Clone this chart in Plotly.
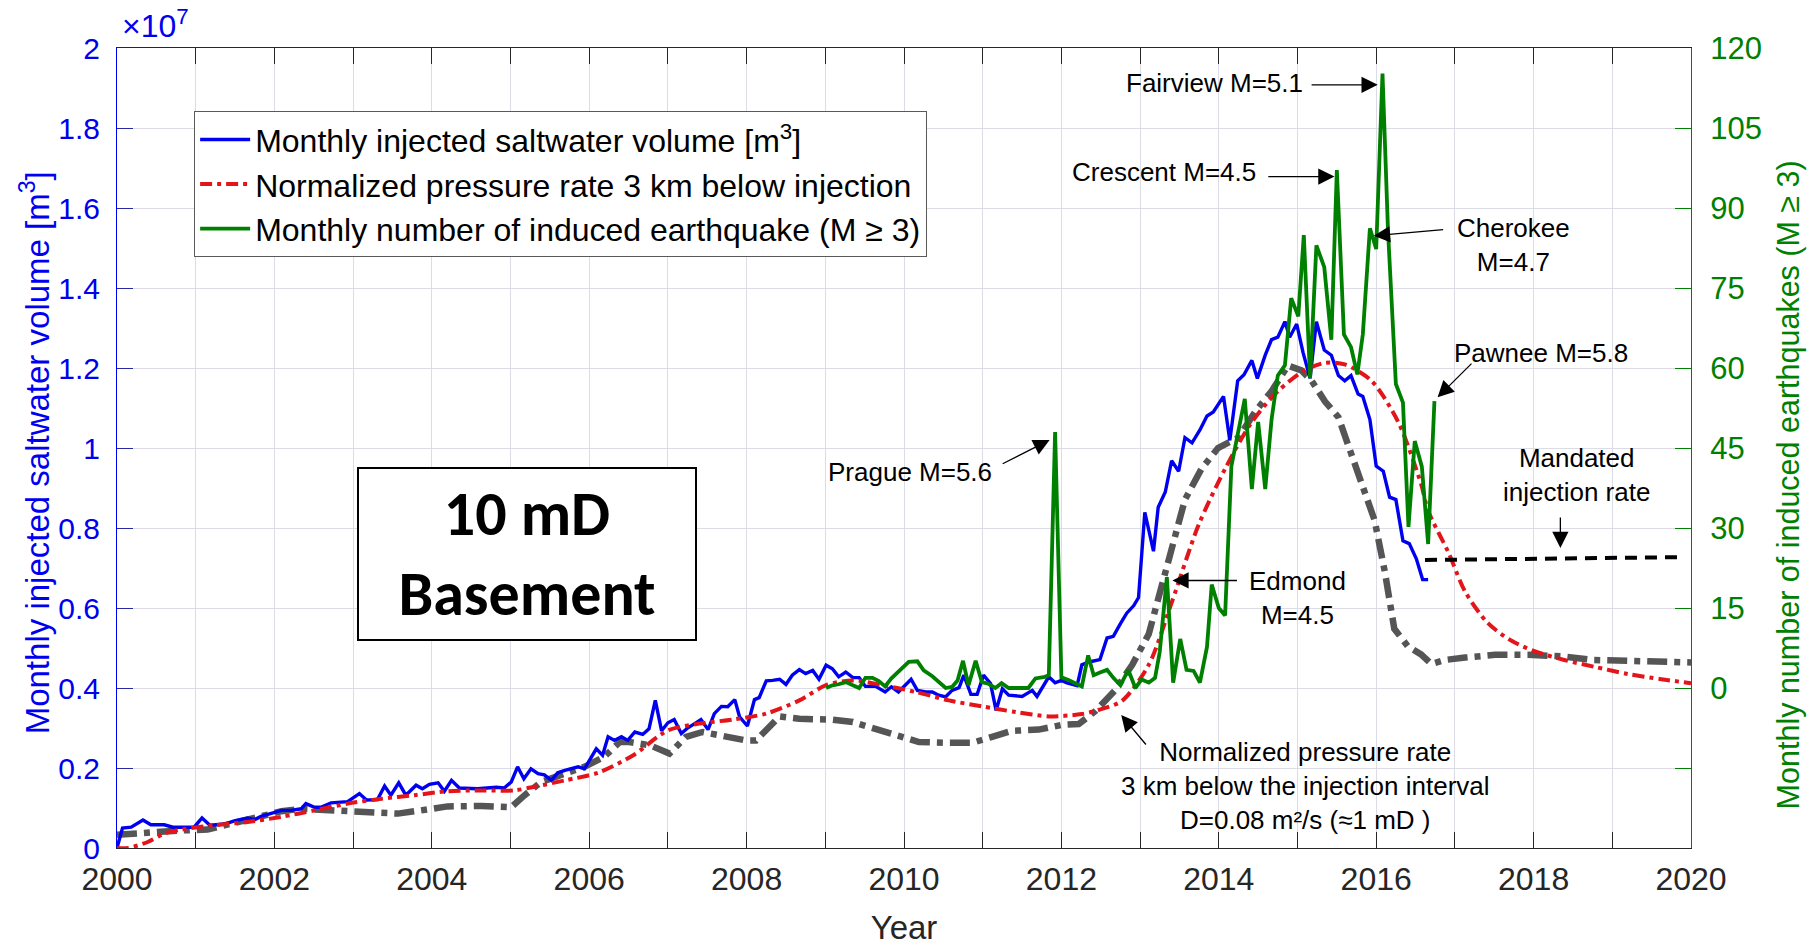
import plotly.graph_objects as go

# ---- Monthly injected saltwater volume (units of 1e7 m^3) ----
inj_year = [2000.00, 2000.07, 2000.18, 2000.33, 2000.43, 2000.60, 2000.71, 2000.82, 2000.98, 2001.08,
            2001.18, 2001.37, 2001.49, 2001.66, 2001.75, 2001.83, 2001.96, 2002.09, 2002.21, 2002.34,
            2002.40, 2002.51, 2002.59, 2002.72, 2002.93, 2003.08, 2003.17, 2003.31, 2003.40, 2003.48,
            2003.58, 2003.67, 2003.80, 2003.88, 2003.97, 2004.08, 2004.16, 2004.25, 2004.35, 2004.58,
            2004.82, 2004.92, 2005.01, 2005.09, 2005.17, 2005.26, 2005.35, 2005.43, 2005.52, 2005.60,
            2005.69, 2005.86, 2005.94, 2006.09, 2006.17, 2006.24, 2006.32, 2006.41, 2006.49, 2006.58,
            2006.68, 2006.76, 2006.84, 2006.92, 2007.00, 2007.08, 2007.17, 2007.25, 2007.34, 2007.42,
            2007.51, 2007.59, 2007.68, 2007.76, 2007.85, 2007.91, 2008.01, 2008.10, 2008.16, 2008.25,
            2008.33, 2008.42, 2008.50, 2008.58, 2008.67, 2008.75, 2008.84, 2008.92, 2009.01, 2009.09,
            2009.17, 2009.26, 2009.35, 2009.43, 2009.51, 2009.64, 2009.76, 2009.84, 2009.93, 2010.09,
            2010.17, 2010.28, 2010.36, 2010.44, 2010.53, 2010.61, 2010.70, 2010.76, 2010.85, 2010.93,
            2011.01, 2011.10, 2011.17, 2011.25, 2011.33, 2011.50, 2011.63, 2011.69, 2011.84, 2011.92,
            2012.00, 2012.07, 2012.20, 2012.26, 2012.35, 2012.49, 2012.58, 2012.66, 2012.75, 2012.83,
            2012.92, 2012.98, 2013.06, 2013.17, 2013.23, 2013.32, 2013.40, 2013.49, 2013.57, 2013.66,
            2013.76, 2013.85, 2013.93, 2014.06, 2014.14, 2014.24, 2014.32, 2014.42, 2014.49, 2014.59,
            2014.67, 2014.75, 2014.84, 2014.90, 2014.99, 2015.07, 2015.16, 2015.24, 2015.34, 2015.43,
            2015.52, 2015.60, 2015.68, 2015.77, 2015.83, 2015.92, 2016.00, 2016.09, 2016.17, 2016.25,
            2016.34, 2016.42, 2016.51, 2016.59, 2016.66]
inj_vol = [0.000, 0.050, 0.052, 0.070, 0.058, 0.058, 0.052, 0.052, 0.052, 0.075,
           0.057, 0.060, 0.068, 0.075, 0.071, 0.079, 0.086, 0.094, 0.094, 0.098,
           0.111, 0.102, 0.102, 0.113, 0.116, 0.136, 0.120, 0.121, 0.155, 0.132,
           0.163, 0.132, 0.157, 0.148, 0.159, 0.163, 0.142, 0.169, 0.150, 0.148,
           0.152, 0.150, 0.165, 0.203, 0.173, 0.198, 0.186, 0.183, 0.169, 0.188,
           0.194, 0.203, 0.198, 0.248, 0.232, 0.278, 0.269, 0.278, 0.269, 0.290,
           0.284, 0.298, 0.369, 0.293, 0.313, 0.321, 0.286, 0.300, 0.311, 0.321,
           0.296, 0.336, 0.354, 0.353, 0.371, 0.328, 0.305, 0.371, 0.376, 0.418,
           0.419, 0.422, 0.409, 0.432, 0.446, 0.436, 0.444, 0.422, 0.457, 0.448,
           0.428, 0.440, 0.426, 0.426, 0.404, 0.404, 0.390, 0.403, 0.390, 0.422,
           0.394, 0.390, 0.390, 0.382, 0.378, 0.394, 0.401, 0.432, 0.384, 0.384,
           0.432, 0.411, 0.344, 0.398, 0.382, 0.379, 0.394, 0.379, 0.428, 0.413,
           0.419, 0.413, 0.406, 0.458, 0.465, 0.471, 0.525, 0.529, 0.561, 0.587,
           0.606, 0.626, 0.839, 0.742, 0.852, 0.890, 0.968, 0.942, 1.026, 1.013,
           1.045, 1.080, 1.090, 1.129, 1.019, 1.168, 1.183, 1.219, 1.174, 1.232,
           1.271, 1.277, 1.316, 1.277, 1.310, 1.239, 1.174, 1.316, 1.245, 1.232,
           1.181, 1.168, 1.181, 1.135, 1.129, 1.071, 0.955, 0.942, 0.877, 0.871,
           0.768, 0.761, 0.723, 0.671, 0.671]

# ---- Monthly number of induced earthquakes (M >= 3) ----
eq_year = [2009.01, 2009.09, 2009.17, 2009.26, 2009.35, 2009.43, 2009.51, 2009.60, 2009.68, 2009.76,
           2009.84, 2009.94, 2010.06, 2010.17, 2010.25, 2010.36, 2010.44, 2010.53, 2010.61, 2010.68,
           2010.75, 2010.82, 2010.91, 2010.99, 2011.07, 2011.16, 2011.24, 2011.33, 2011.58, 2011.67,
           2011.79, 2011.84, 2011.92, 2012.00, 2012.09, 2012.22, 2012.26, 2012.34, 2012.41, 2012.49,
           2012.58, 2012.66, 2012.75, 2012.85, 2012.94, 2013.02, 2013.11, 2013.19, 2013.25, 2013.34,
           2013.42, 2013.51, 2013.59, 2013.68, 2013.76, 2013.85, 2013.91, 2014.00, 2014.08, 2014.16,
           2014.25, 2014.33, 2014.42, 2014.50, 2014.59, 2014.67, 2014.75, 2014.84, 2014.92, 2015.01,
           2015.08, 2015.16, 2015.24, 2015.34, 2015.43, 2015.50, 2015.59, 2015.68, 2015.76, 2015.83,
           2015.92, 2016.00, 2016.08, 2016.15, 2016.25, 2016.34, 2016.41, 2016.49, 2016.58, 2016.66,
           2016.74]
eq_count = [0.0, 0.5, 0.7, 1.1, 0.5, 0.0, 1.9, 1.9, 1.3, 0.3,
            1.8, 3.3, 4.9, 5.0, 3.3, 2.2, 1.1, 0.0, 0.2, 1.4,
            5.1, 0.5, 5.1, 1.1, 0.8, 0.0, 0.9, 0.0, 0.0, 1.8,
            2.1, 2.4, 48.0, 2.0, 1.5, 0.7, 0.3, 6.1, 2.4, 2.9,
            3.4, 1.9, 0.5, 3.4, 0.0, 1.6, 1.0, 1.9, 6.8, 20.8,
            1.0, 9.2, 3.4, 3.2, 1.0, 7.7, 19.4, 15.0, 13.6, 41.6,
            47.9, 54.2, 37.3, 49.9, 37.3, 50.3, 58.6, 60.5, 73.1, 69.7,
            84.9, 58.1, 83.0, 78.9, 65.3, 97.1, 66.3, 63.9, 58.8, 66.3,
            86.2, 82.3, 115.2, 85.7, 57.0, 53.5, 30.2, 46.3, 41.5, 27.0,
            53.8]

# ---- Normalized pressure rate 3 km below injection (10 mD basement) ----
p10_year = [2000.00, 2000.14, 2000.39, 2000.60, 2000.82, 2001.24, 2001.66, 2002.09, 2002.51, 2002.93,
            2003.36, 2003.78, 2004.20, 2004.63, 2005.05, 2005.30, 2005.69, 2006.11, 2006.56, 2007.00,
            2007.40, 2007.82, 2008.25, 2008.67, 2009.01, 2009.35, 2009.73, 2010.15, 2010.57, 2010.99,
            2011.42, 2011.84, 2012.26, 2012.47, 2012.77, 2013.11, 2013.40, 2013.74, 2014.08, 2014.42,
            2014.75, 2015.09, 2015.35, 2015.60, 2015.94, 2016.28, 2016.57, 2016.66, 2016.92, 2017.13,
            2017.42, 2017.72, 2018.01, 2018.39, 2018.77, 2019.20, 2019.62, 2020.00]
p10_rate = [0.000, 0.000, 0.015, 0.036, 0.046, 0.057, 0.065, 0.078, 0.094, 0.111,
            0.123, 0.132, 0.142, 0.144, 0.144, 0.153, 0.169, 0.188, 0.232, 0.294,
            0.311, 0.321, 0.336, 0.369, 0.407, 0.419, 0.407, 0.390, 0.369, 0.354,
            0.340, 0.329, 0.335, 0.345, 0.368, 0.458, 0.613, 0.806, 0.948, 1.065,
            1.142, 1.194, 1.213, 1.209, 1.168, 1.065, 0.910, 0.843, 0.738, 0.641,
            0.562, 0.518, 0.492, 0.470, 0.453, 0.435, 0.422, 0.412]

# ---- Normalized pressure rate, D = 0.08 m^2/s (~1 mD) ----
p1_year = [2000.00, 2000.39, 2000.82, 2001.15, 2001.37, 2001.66, 2002.09, 2002.34, 2002.59, 2002.93,
           2003.27, 2003.57, 2003.86, 2004.20, 2004.63, 2005.01, 2005.18, 2005.39, 2005.69, 2005.94,
           2006.19, 2006.39, 2006.51, 2006.77, 2007.02, 2007.23, 2007.44, 2007.74, 2007.99, 2008.12,
           2008.42, 2008.67, 2009.09, 2009.35, 2009.64, 2009.94, 2010.19, 2010.53, 2010.87, 2011.12,
           2011.37, 2011.71, 2012.01, 2012.22, 2012.43, 2012.68, 2012.90, 2013.11, 2013.28, 2013.40,
           2013.57, 2013.78, 2013.99, 2014.25, 2014.46, 2014.67, 2014.88, 2015.05, 2015.18, 2015.35,
           2015.52, 2015.68, 2015.85, 2015.98, 2016.11, 2016.23, 2016.40, 2016.57, 2016.70, 2016.87,
           2017.13, 2017.51, 2017.93, 2018.35, 2018.77, 2019.20, 2019.62, 2020.00]
p1_rate = [0.033, 0.040, 0.044, 0.046, 0.057, 0.073, 0.092, 0.098, 0.096, 0.092,
           0.090, 0.086, 0.094, 0.104, 0.105, 0.102, 0.132, 0.165, 0.186, 0.203,
           0.228, 0.265, 0.265, 0.257, 0.236, 0.278, 0.290, 0.278, 0.269, 0.269,
           0.329, 0.323, 0.321, 0.315, 0.298, 0.278, 0.265, 0.263, 0.263, 0.278,
           0.293, 0.296, 0.308, 0.310, 0.342, 0.394, 0.458, 0.535, 0.665, 0.755,
           0.871, 0.948, 1.000, 1.026, 1.090, 1.142, 1.206, 1.194, 1.168, 1.116,
           1.077, 0.987, 0.897, 0.819, 0.690, 0.548, 0.505, 0.484, 0.460, 0.470,
           0.476, 0.483, 0.483, 0.479, 0.470, 0.468, 0.466, 0.464]

# ---- Mandated injection rate (units of 1e7 m^3) ----
mand_year = [2016.62, 2019.83]
mand_vol = [0.720, 0.727]

# Axis ticks
year_ticks = list(range(2000, 2021))
year_labels = [str(y) if y % 2 == 0 else "" for y in year_ticks]
vol_ticks = [0, 0.2, 0.4, 0.6, 0.8, 1.0, 1.2, 1.4, 1.6, 1.8, 2.0]
vol_labels = ["0", "0.2", "0.4", "0.6", "0.8", "1", "1.2", "1.4", "1.6", "1.8", "2"]
eq_ticks = [-15, 0, 15, 30, 45, 60, 75, 90, 105, 120]
eq_labels = ["", "0", "15", "30", "45", "60", "75", "90", "105", "120"]

FONT = "Arial, 'Liberation Sans', sans-serif"
BLUE = "#0000f0"
GREEN = "#008000"
RED = "#e3141a"
GRAY = "#555555"
AXIS = "#262626"
GRID = "#dcdce6"

fig = go.Figure()

fig.add_trace(go.Scatter(
    x=p1_year, y=p1_rate, mode="lines", showlegend=False, yaxis="y",
    line=dict(color=GRAY, width=6.5, dash="20px,7px,6px,7px")))

fig.add_trace(go.Scatter(
    x=inj_year, y=inj_vol, mode="lines", yaxis="y", legendrank=1,
    name="Monthly injected saltwater volume [m<sup>3</sup>]",
    line=dict(color=BLUE, width=3.4)))

fig.add_trace(go.Scatter(
    x=p10_year, y=p10_rate, mode="lines", yaxis="y", legendrank=2,
    name="Normalized pressure rate 3 km below injection",
    line=dict(color=RED, width=4, dash="12px,5px,4px,5px", shape="spline", smoothing=0.8)))

fig.add_trace(go.Scatter(
    x=mand_year, y=mand_vol, mode="lines", yaxis="y", showlegend=False,
    line=dict(color="black", width=4, dash="12px,8px")))

fig.add_trace(go.Scatter(
    x=eq_year, y=eq_count, mode="lines", yaxis="y2", legendrank=3,
    name="Monthly number of induced earthquake (M ≥ 3)",
    line=dict(color=GREEN, width=3.8)))


def label(x, y, text, size=26, yref="y"):
    return dict(x=x, y=y, xref="x", yref=yref, text=text, showarrow=False,
                font=dict(family=FONT, size=size, color="black"),
                xanchor="center", yanchor="middle", align="center")


def arrow(x, y, ax, ay, yref="y2"):
    return dict(x=x, y=y, ax=ax, ay=ay, xref="x", yref=yref, axref="x", ayref=yref,
                text="", showarrow=True, arrowhead=2, arrowsize=2.5, arrowwidth=1.3,
                arrowcolor="black", standoff=0, startstandoff=0)


annotations = [
    # Event labels
    label(2010.07, 0.940, "Prague M=5.6"),
    arrow(2011.85, 46.5, 2011.235, 41.9),
    label(2013.95, 1.9125, "Fairview M=5.1"),
    arrow(2016.02, 113.1, 2015.16, 113.1),
    label(2013.30, 1.690, "Crescent M=4.5"),
    arrow(2015.47, 95.9, 2014.61, 95.9),
    label(2017.75, 1.5075, "Cherokee<br>M=4.7"),
    arrow(2015.97, 84.8, 2016.87, 85.97),
    label(2018.10, 1.2375, "Pawnee M=5.8"),
    arrow(2016.78, 54.5, 2017.23, 61.1),
    label(2018.54, 0.933, "Mandated<br>injection rate"),
    arrow(2018.34, 0.75, 2018.34, 0.83, yref="y"),
    label(2015.00, 0.626, "Edmond<br>M=4.5"),
    arrow(2013.41, 20.16, 2014.25, 20.16),
    label(2015.10, 0.154, "Normalized pressure rate<br>3 km below the injection interval<br>D=0.08 m²/s (≈1 mD )"),
    arrow(2012.76, 0.3325, 2013.09, 0.255, yref="y"),
    # Permeability box
    dict(x=2005.21, y=0.735, xref="x", yref="y", text="<b>10 mD<br>Basement</b>", showarrow=False,
         font=dict(family="Calibri, Carlito, Lato, sans-serif", size=62, color="black"),
         bgcolor="white", bordercolor="black", borderwidth=2, borderpad=0,
         width=336, height=170, align="center", valign="middle",
         xanchor="center", yanchor="middle"),
    # Exponent of the left axis
    dict(x=0.002, y=1.003, xref="paper", yref="paper", text="×10<sup>7</sup>", showarrow=False,
         font=dict(family=FONT, size=32, color=BLUE), xanchor="left", yanchor="bottom"),
    # Axis titles
    dict(x=-0.0524, y=0.494, xref="paper", yref="paper", textangle=-90, showarrow=False,
         text="Monthly injected saltwater volume [m<sup>3</sup>]",
         font=dict(family=FONT, size=33, color=BLUE), xanchor="center", yanchor="middle"),
    dict(x=1.062, y=0.454, xref="paper", yref="paper", textangle=-90, showarrow=False,
         text="Monthly number of induced earthquakes (M ≥ 3)",
         font=dict(family=FONT, size=30.5, color=GREEN), xanchor="center", yanchor="middle"),
]

fig.update_layout(
    width=1820, height=946,
    margin=dict(l=117, r=129, t=48, b=98, pad=0, autoexpand=False),
    paper_bgcolor="white", plot_bgcolor="white",
    font=dict(family=FONT, color=AXIS),
    showlegend=True,
    legend=dict(x=0.049, y=0.921, xanchor="left", yanchor="top",
                bgcolor="white", bordercolor="#5a5a5a", borderwidth=1,
                font=dict(family=FONT, size=32, color="black"),
                traceorder="normal", itemwidth=50, tracegroupgap=0),
    annotations=annotations,
    xaxis=dict(range=[2000, 2020], tickvals=year_ticks, ticktext=year_labels,
               ticks="inside", ticklen=16, tickwidth=1, tickcolor=AXIS,
               showline=True, linecolor=AXIS, linewidth=1, mirror="ticks",
               showgrid=True, gridcolor=GRID, gridwidth=1, zeroline=False, automargin=False,
               tickfont=dict(family=FONT, size=32, color=AXIS), ticklabelstandoff=3,
               title=dict(text="Year", font=dict(family=FONT, size=33, color=AXIS), standoff=24)),
    yaxis=dict(range=[0, 2], tickvals=vol_ticks, ticktext=vol_labels,
               ticks="inside", ticklen=16, tickwidth=1, tickcolor="#2a2aa0",
               showline=True, linecolor=BLUE, linewidth=1, automargin=False,
               showgrid=True, gridcolor=GRID, gridwidth=1, zeroline=False,
               tickfont=dict(family=FONT, size=30, color=BLUE), ticklabelstandoff=10),
    yaxis2=dict(range=[-30, 120], overlaying="y", side="right", tickvals=eq_ticks, ticktext=eq_labels,
                ticks="inside", ticklen=16, tickwidth=1, tickcolor=GREEN,
                showline=True, linecolor=GREEN, linewidth=1, automargin=False,
                showgrid=False, zeroline=False,
                tickfont=dict(family=FONT, size=31, color=GREEN), ticklabelstandoff=12),
)

fig.write_html("out.html")
